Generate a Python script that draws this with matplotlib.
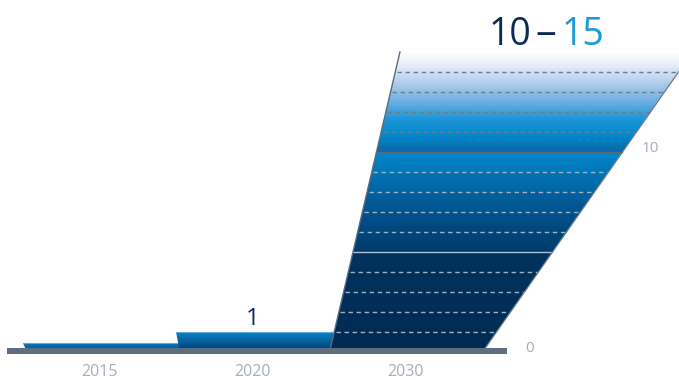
import numpy as np
import matplotlib
matplotlib.use("Agg")
import matplotlib.pyplot as plt
from matplotlib.patches import Polygon, Rectangle
from matplotlib.colors import LinearSegmentedColormap

# ---- data ----
years = ["2015", "2020", "2030"]
values = [0.45, 1, 15]
value_labels = ["", "1", ""]
range_low = 10
range_high = 15
axis_ticks = [0, 10]
grid_values = list(range(1, 15))

plt.rcParams['font.family'] = ['Open Sans', 'DejaVu Sans']

fig = plt.figure(figsize=(6.79, 3.80), dpi=100)
ax = fig.add_axes([0, 0, 1, 1])
ax.set_axis_off()

NAVY = "#0b2b55"
BLUE = "#1a9ad6"
GRAYTXT = "#a3afbd"

def grad_fill(verts, cmap, y0, y1, zorder):
    poly = Polygon(verts, closed=True, facecolor='none', edgecolor='none', zorder=zorder)
    ax.add_patch(poly)
    xs = [v[0] for v in verts]
    grad = np.linspace(0, 1, 1024).reshape(-1, 1)
    im = ax.imshow(grad, cmap=cmap, extent=(min(xs), max(xs), y0, y1), origin='lower',
                   aspect='auto', zorder=zorder, interpolation='bilinear')
    im.set_clip_path(poly)
    return poly

# small bars (2015, 2020)
cm_small = [
    LinearSegmentedColormap.from_list("b0", ["#00508a", "#0a78c0"]),
    LinearSegmentedColormap.from_list("b1", ["#00386a", "#0a86cc"]),
]
lean = [0.02, 0.026]
for i in range(2):
    v = values[i]
    left = i - 0.5
    verts = [(left + lean[i], 0), (i + 0.6, 0), (i + 0.6, v), (left - 0.003, v)]
    grad_fill(verts, cm_small[i], 0, v, 2 + i)
    ax.plot([left - 0.003, i + 0.6], [v, v], color="#5fa9dc", lw=0.8, zorder=2 + i)

# 2030 tall shape
i = 2
v = values[i]
sl = 0.0307   # left edge slant per unit
sr = 0.0915   # right edge slant per unit
verts = [(i - 0.5, 0), (i + 0.5, 0), (i + 0.5 + sr * v, v), (i - 0.5 + sl * v, v)]
stops = [
    (0.0, "#002a52"), (4.99, "#00335f"), (5.0, "#003a6c"), (7.5, "#005a96"),
    (9.99, "#0088cc"), (10.0, "#0a66a4"), (10.8, "#0088cc"), (11.6, "#1a94d6"),
    (12.5, "#6aaee2"), (13.5, "#b4ceec"), (14.3, "#e2ecf8"), (15.0, "#ffffff"),
]
cmap30 = LinearSegmentedColormap.from_list("c30", [(s / v, c) for s, c in stops], N=1024)
grad_fill(verts, cmap30, 0, v, 5)

# edges
ax.plot([i - 0.5, i - 0.5 + sl * v], [0, v], color="#5a6b7c", lw=1.0, zorder=7)
ax.plot([i + 0.5, i + 0.5 + sr * v], [0, v], color="#6a7a8a", lw=0.9, zorder=7)

# grid lines inside 2030 shape
for g in grid_values:
    x0 = i - 0.5 + sl * g
    x1 = i + 0.5 + sr * g
    if g == 5:
        ax.plot([x0, x1], [g, g], color="#b4c0cc", lw=1.0, zorder=6)
    elif g == 10:
        ax.plot([x0, x1], [g, g], color="#5a6a7a", lw=1.0, zorder=6)
    else:
        col = "#a2b2c2" if g < 10 else "#6e7c8a"
        ax.plot([x0 + 0.01, x1], [g, g], color=col, lw=1.0, zorder=6,
                linestyle=(0, (3.2, 2.6)))

# baseline
ax.add_patch(Rectangle((-0.608, -0.12), 2.5 + 0.16 + 0.608, 0.3, facecolor="#5c6e80",
                       edgecolor='none', zorder=8))

# year labels
for k, y in enumerate(years):
    ax.text(k, -1.0, y, ha='center', va='center', fontsize=11.5, color=GRAYTXT)

# value label for 2020
for k, lab in enumerate(value_labels):
    if lab:
        ax.annotate(lab, (k, values[k]), xytext=(0, 7), textcoords='offset pixels',
                    ha='center', va='baseline', fontsize=17, color=NAVY)

# axis tick labels along slanted axis
for t in axis_ticks:
    ax.text(2.5 + 0.31 + 0.0785 * t, t + 0.2, str(t), ha='center', va='center',
            fontsize=11, color=GRAYTXT)

# range label
cx, cy = 2.915, 15.35
ax.annotate("\u2013", (cx, cy), ha='center', va='baseline', fontsize=30, color=NAVY)
ax.annotate(str(range_low), (cx, cy), xytext=(-15, 0), textcoords='offset pixels',
            ha='right', va='baseline', fontsize=27, color=NAVY)
ax.annotate(str(range_high), (cx, cy), xytext=(16, 0), textcoords='offset pixels',
            ha='left', va='baseline', fontsize=27, color=BLUE)

ax.set_xlim(-100 / 153, 579 / 153)
ax.set_ylim(-1.4, 17.6)

fig.savefig("out.png", dpi=100)
